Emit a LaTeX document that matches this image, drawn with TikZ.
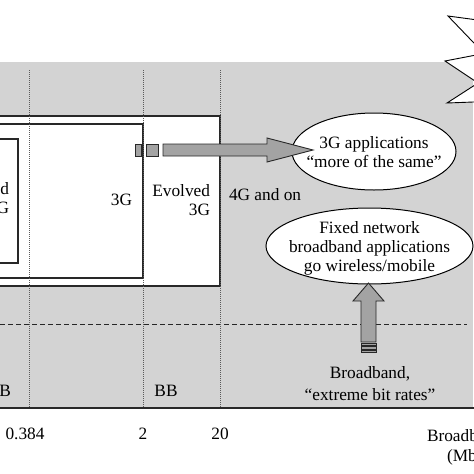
\documentclass[tikz,border=0pt]{standalone}
\usepackage{fontspec}
\setmainfont{Liberation Serif}
\definecolor{bggray}{RGB}{211,211,211}
\definecolor{arrgray}{RGB}{163,163,163}
\definecolor{linecol}{RGB}{40,40,40}
\begin{document}
\begin{tikzpicture}[x=1pt,y=-1pt,
  every node/.style={font=\fontsize{17.3}{19}\selectfont, inner sep=0pt, outer sep=0pt},
  boxline/.style={draw=linecol, line width=1.1pt, fill=white},
  vdots/.style={draw=black!65, line width=0.6pt, dash pattern=on 1pt off 1pt},
  hdash/.style={draw=black!85, line width=0.9pt, dash pattern=on 5pt off 3pt},
  blockarrow/.style={draw=linecol, line width=0.9pt, fill=arrgray},
  bubble/.style={draw=black, line width=1pt, fill=white}]
\useasboundingbox (0,0) rectangle (474,474);
\clip (0,0) rectangle (474,474);
% background band
\fill[bggray] (0,62) rectangle (473,408);
% dashed threshold
\draw[hdash] (0,324) -- (467,324);
% nested generation boxes
\draw[boxline] (-10,116) rectangle (220,286);
\draw[boxline] (-10,124) rectangle (143,278);
\draw[boxline] (-10,139) rectangle (18,263);
% dotted bit-rate guides
\coordinate (g1t) at (29.5,70); \coordinate (g1b) at (29.5,408);
\coordinate (g2t) at (143,70);  \coordinate (g2b) at (143,408);
\coordinate (g3t) at (220,70);  \coordinate (g3b) at (220,408);
\draw[vdots] (g1t) -- (g1b);
\draw[vdots] (g2t) -- (g2b);
\draw[vdots] (g3t) -- (g3b);
% axis
\coordinate (ax0) at (0,408); \coordinate (ax1) at (474,408);
\draw[linecol, line width=1.3pt] (ax0) -- (ax1);
% starburst
\draw[bubble, line width=0.9pt] (500,23) -- (448,16) -- (484,53.5) -- (445,61) -- (478,83) -- (447,103) -- (500,101) -- cycle;
% ellipses
\draw[bubble] (374,151.5) ellipse [x radius=82, y radius=38.5];
\draw[bubble] (369.5,246) ellipse [x radius=103.5, y radius=38];
% horizontal block arrow
\draw[blockarrow] (135,144) rectangle (141,156);
\draw[blockarrow] (146,144) rectangle (158,156);
\draw[blockarrow] (163,144) -- (267,144) -- (267,138) -- (313,150) -- (267,162) -- (267,156) -- (163,156) -- cycle;
% vertical block arrow
\draw[blockarrow] (361,342) -- (361,301) -- (353,301) -- (368.5,283) -- (384,301) -- (376,301) -- (376,342) -- cycle;
\draw[blockarrow] (361,343) rectangle (376,345.5);
\draw[blockarrow] (361,346.8) rectangle (376,349.2);
\draw[blockarrow] (361,350.3) rectangle (376,352.7);
% texts (base anchor = baseline of last line)
\node[anchor=base east, align=right] (evo2g) at (9,213) {Evolved\\2G};
\node[anchor=base east] (g3) at (132,205) {3G};
\node[anchor=base east, align=right] (evo3g) at (210,215) {Evolved\\3G};
\node[anchor=base west] (g4) at (229,200) {4G and on};
\node[anchor=base, align=center] (app3g) at (374,167) {3G applications\\“more of the same”};
\node[anchor=base, align=center] (fixbb) at (369.5,271) {Fixed network\\broadband applications\\go wireless/mobile};
\node[anchor=base, align=center, font=\fontsize{17.3}{22}\selectfont] (bbx) at (370,400) {Broadband,\\“extreme bit rates”};
\node[anchor=base east] (nb) at (11,396) {NB};
\node[anchor=base] (bb) at (166,396) {BB};
\node[anchor=base] (t1) at (25,439) {0.384};
\node[anchor=base] (t2) at (143,439) {2};
\node[anchor=base] (t3) at (220,439) {20};
\node[anchor=base west] (xl1) at (427,441) {Broadband};
\node[anchor=base west] (xl2) at (447,461) {(Mbit/s)};
\end{tikzpicture}
\end{document}
